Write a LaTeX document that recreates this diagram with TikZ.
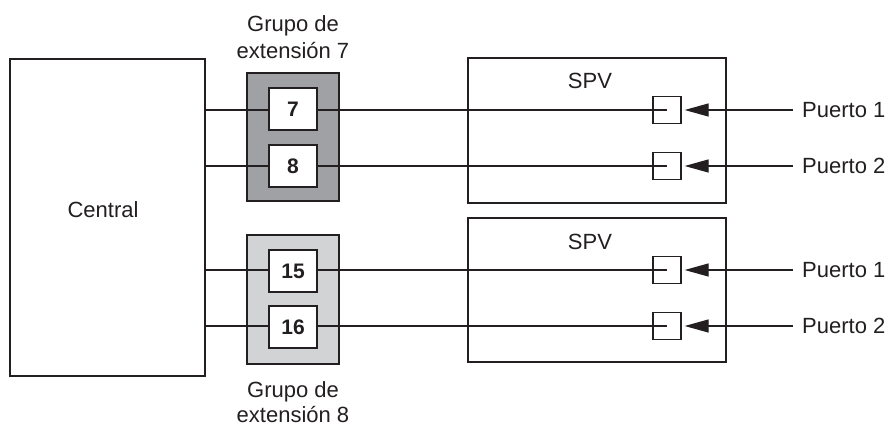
\documentclass[tikz,border=0pt]{standalone}
\usepackage{fontspec}
\setmainfont{Liberation Sans}
\usetikzlibrary{arrows.meta}
\definecolor{ink}{RGB}{35,31,32}
\definecolor{grpdark}{RGB}{160,161,165}
\definecolor{grplight}{RGB}{210,211,213}
\begin{document}
\begin{tikzpicture}[x=1pt,y=-1pt,
  every node/.style={inner sep=0pt,text=ink,font=\fontsize{22}{27}\selectfont},
  bigbox/.style={draw=ink,line width=2pt,fill=white},
  grpbox/.style={draw=ink,line width=2pt},
  extbox/.style={draw=ink,line width=2pt,fill=white,minimum width=48pt,minimum height=42pt,font=\fontsize{21}{25}\selectfont\bfseries},
  portsq/.style={draw=ink,line width=1.3pt,minimum width=28pt,minimum height=27pt},
  wire/.style={draw=ink,line width=1.3pt},
  inwire/.style={draw=ink,line width=1.3pt,-{Triangle[length=24pt,width=13pt]},shorten >=3pt,shorten <=9pt}
]
\useasboundingbox (0,0) rectangle (893,425);
% main boxes
\node[bigbox,minimum width=195pt,minimum height=317pt] (central) at (107.5,217.5) {};
\node at (103,210) {Central};
\node[bigbox,minimum width=258pt,minimum height=145pt] (spv1) at (597,130.5) {};
\node[bigbox,minimum width=258pt,minimum height=144pt] (spv2) at (597,290) {};
\node[anchor=base] (spvl1) at (590,89) {SPV};
\node[anchor=base] (spvl2) at (590,249) {SPV};
% group boxes
\node[grpbox,fill=grpdark,minimum width=92pt,minimum height=128pt] (g7) at (293,137) {};
\node[grpbox,fill=grplight,minimum width=92pt,minimum height=129pt] (g8) at (293,299.5) {};
\node[anchor=north,align=center] (g7l) at (293,15) {Grupo de\\extensión 7};
\node[anchor=north,align=center,font=\fontsize{22}{25}\selectfont] (g8l) at (293,381) {Grupo de\\extensión 8};
% port squares
\node[portsq] (s1) at (667,110) {};
\node[portsq] (s2) at (667,166) {};
\node[portsq] (s3) at (667,270) {};
\node[portsq] (s4) at (667,326) {};
% wires
\foreach \s in {s1,s2,s3,s4}{\draw[wire] (central.east |- \s) -- (\s.center);}
% extension boxes on top of wires
\node[extbox] (e7) at (293,109) {7};
\node[extbox] (e8) at (293,166) {8};
\node[extbox] (e15) at (293,271) {15};
\node[extbox] (e16) at (293,327) {16};
% port labels
\node[anchor=west] (p1) at (802,110) {Puerto 1};
\node[anchor=west] (p2) at (802,166) {Puerto 2};
\node[anchor=west] (p3) at (802,270) {Puerto 1};
\node[anchor=west] (p4) at (802,326) {Puerto 2};
\draw[inwire] (p1.west) -- (s1.east);
\draw[inwire] (p2.west) -- (s2.east);
\draw[inwire] (p3.west) -- (s3.east);
\draw[inwire] (p4.west) -- (s4.east);
\end{tikzpicture}
\end{document}
